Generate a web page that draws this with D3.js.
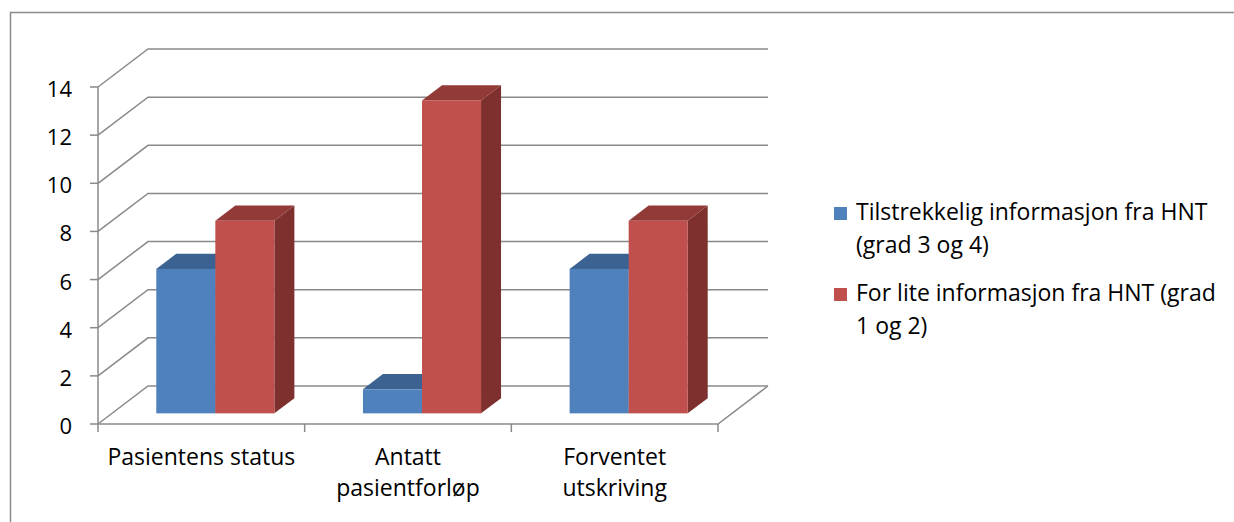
<!DOCTYPE html>
<html>
<head>
<meta charset="utf-8">
<script src="https://cdn.jsdelivr.net/npm/d3@7/dist/d3.min.js"></script>
<style>
  html, body { margin: 0; padding: 0; background: #fff; }
  svg { display: block; }
  text { font-family: "Open Sans", Lato, sans-serif; fill: #000; }
</style>
</head>
<body>
<svg id="chart" width="1234" height="522"></svg>
<script>
// ---- data ----
const categories = [["Pasientens status"], ["Antatt", "pasientforløp"], ["Forventet", "utskriving"]];
const categoryKeys = ["Pasientens status", "Antatt pasientforløp", "Forventet utskriving"];
const seriesNames = ["Tilstrekkelig informasjon fra HNT (grad 3 og 4)", "For lite informasjon fra HNT (grad 1 og 2)"];
const legendLines = [["Tilstrekkelig informasjon fra HNT", "(grad 3 og 4)"], ["For lite informasjon fra HNT (grad", "1 og 2)"]];
const seriesTilstrekkelig = [6, 1, 6];
const seriesForLite = [8, 13, 8];
const yTicks = [0, 2, 4, 6, 8, 10, 12, 14];

// ---- styles ----
const colors = [
  { front: "#4F81BD", top: "#3C6291", side: "#385D8A" },
  { front: "#C0504D", top: "#923A37", side: "#7D302E" }
];
const gridColor = "#8a8a8a";
const fontSize = 23;
const tickFontSize = 22;

const svg = d3.select("#chart");

// outer border
svg.append("path")
  .attr("d", "M10.5,522 L10.5,12.5 L1234,12.5")
  .attr("fill", "none").attr("stroke", "#8c8c8c").attr("stroke-width", 1.5);

// 3D projection
const DX = 50, DY = 38;
const x = d3.scaleBand().domain(categoryKeys).range([98, 718]).padding(0);
const xs = d3.scaleBand().domain([0, 1]).range([0, x.bandwidth()]).paddingInner(0).paddingOuter(0.75);
const y = d3.scaleLinear().domain([0, 14]).range([424, 87]);
const P = (sx, v, z) => [sx + DX * z, y(v) - DY * z];

const g = svg.append("g");
const xL = 98, xR = 718;

// gridlines: left wall diagonals + back wall horizontals
yTicks.forEach(t => {
  const a = P(xL, t, 0), b = P(xL, t, 1), c = P(xR, t, 1);
  g.append("polyline")
    .attr("points", [a, b, c].map(p => p.join(",")).join(" "))
    .attr("fill", "none").attr("stroke", gridColor).attr("stroke-width", 1.5);
});
// floor front edge + right edge
{
  const a = P(xL, 0, 0), b = P(xR, 0, 0), c = P(xR, 0, 1);
  g.append("polyline")
    .attr("points", [a, b, c].map(p => p.join(",")).join(" "))
    .attr("fill", "none").attr("stroke", gridColor).attr("stroke-width", 1.5);
}
// y axis line
g.append("line").attr("x1", xL).attr("x2", xL).attr("y1", y(0)).attr("y2", y(14))
  .attr("stroke", gridColor).attr("stroke-width", 1.5);
// y ticks + labels
yTicks.forEach(t => {
  g.append("line").attr("x1", xL - 8).attr("x2", xL).attr("y1", y(t)).attr("y2", y(t))
    .attr("stroke", gridColor).attr("stroke-width", 1.5);
  g.append("text").attr("x", 72).attr("y", y(t) + 1)
    .attr("text-anchor", "end").attr("dominant-baseline", "central")
    .attr("font-size", tickFontSize).text(t);
});
// x ticks
[0, 1, 2, 3].forEach(i => {
  const sx = xL + i * x.step();
  g.append("line").attr("x1", sx).attr("x2", sx).attr("y1", y(0)).attr("y2", y(0) + 8)
    .attr("stroke", gridColor).attr("stroke-width", 1.5);
});

// bars
const z0 = 0.28, z1 = 0.68;
const allSeries = [seriesTilstrekkelig, seriesForLite];
categoryKeys.forEach((cat, ci) => {
  allSeries.forEach((vals, si) => {
    const v = vals[ci];
    const sx0 = x(cat) + xs(si), sx1 = sx0 + xs.bandwidth();
    const c = colors[si];
    const pts = arr => arr.map(p => p.join(",")).join(" ");
    g.append("polygon").attr("points", pts([P(sx1, 0, z0), P(sx1, v, z0), P(sx1, v, z1), P(sx1, 0, z1)]))
      .attr("fill", c.side);
    g.append("polygon").attr("points", pts([P(sx0, v, z0), P(sx1, v, z0), P(sx1, v, z1), P(sx0, v, z1)]))
      .attr("fill", c.top);
    const f0 = P(sx0, v, z0), f1 = P(sx1, 0, z0);
    g.append("rect").attr("x", f0[0]).attr("y", f0[1]).attr("width", f1[0] - f0[0]).attr("height", f1[1] - f0[1])
      .attr("fill", c.front);
  });
});

// category labels (one text per line)
categoryKeys.forEach((cat, ci) => {
  const cx = x(cat) + x.bandwidth() / 2;
  categories[ci].forEach((line, li) => {
    g.append("text").attr("text-anchor", "middle").attr("font-size", fontSize)
      .attr("x", cx).attr("y", 465 + li * 31).text(line);
  });
});

// legend
const legendY = [220, 301];
legendLines.forEach((lines, si) => {
  g.append("rect").attr("x", 834).attr("y", legendY[si] - 13).attr("width", 13).attr("height", 13)
    .attr("fill", colors[si].front);
  lines.forEach((line, li) => {
    g.append("text").attr("font-size", fontSize)
      .attr("x", 856).attr("y", legendY[si] + li * 33).text(line);
  });
});
</script>
</body>
</html>
